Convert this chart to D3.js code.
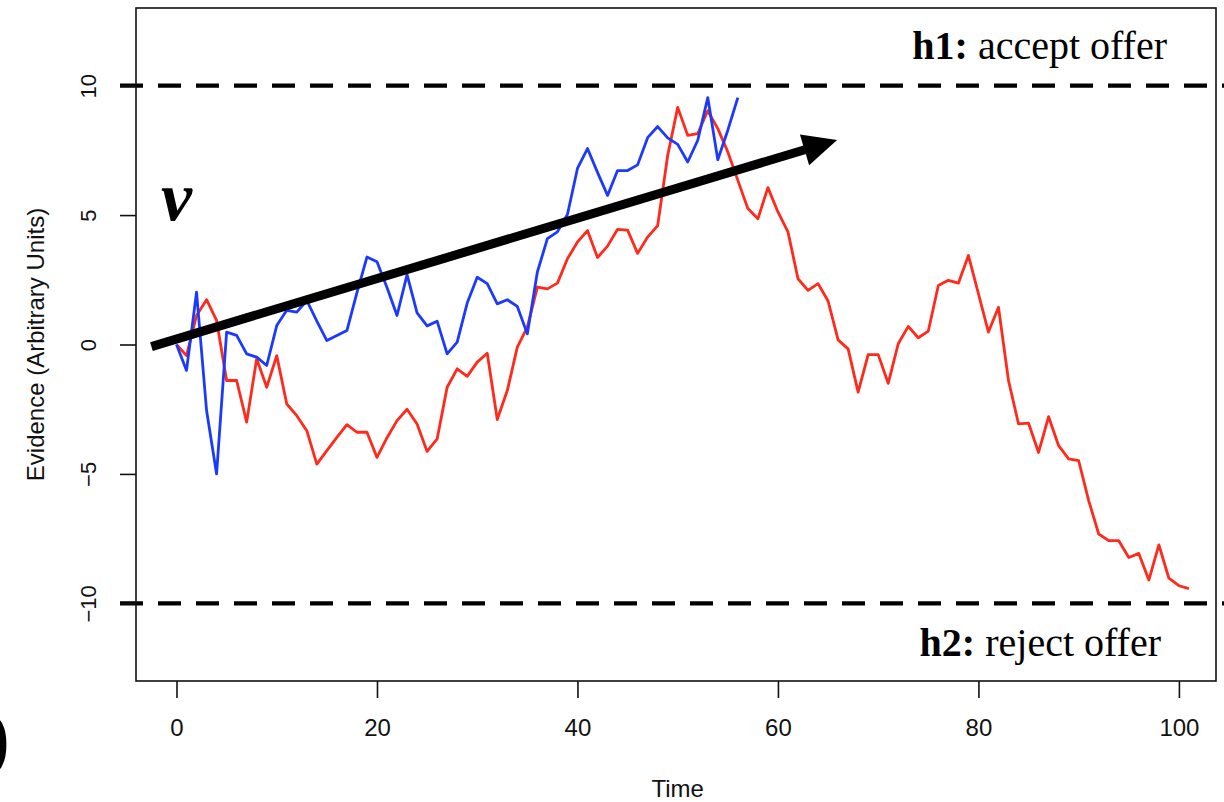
<!DOCTYPE html>
<html>
<head>
<meta charset="utf-8">
<script src="https://cdn.jsdelivr.net/npm/d3@7"></script>
<style>
  html, body { margin: 0; padding: 0; background: #fff; overflow: hidden; }
  svg { display: block; }
</style>
</head>
<body>
<svg id="chart" width="1224" height="802"></svg>
<script>
// ---- data ----
const blueSeries = [0, -1.0, 2.02, -2.55, -5.0, 0.48, 0.35, -0.36, -0.49, -0.81,
  0.73, 1.32, 1.25, 1.7, 0.9, 0.15, 0.35, 0.54, 2.0, 3.38,
  3.2, 2.2, 1.12, 2.7, 1.22, 0.72, 0.9, -0.36, 0.09, 1.6,
  2.6, 2.35, 1.57, 1.73, 1.47, 0.41, 2.8, 4.09, 4.35, 5.02,
  6.8, 7.57, 6.65, 5.76, 6.72, 6.72, 6.94, 7.99, 8.42, 7.98,
  7.73, 7.05, 7.89, 9.54, 7.14, 8.28, 9.54];
const redSeries = [0, -0.43, 1.12, 1.73, 0.93, -1.39, -1.39, -3.0, -0.55, -1.65,
  -0.43, -2.3, -2.75, -3.33, -4.62, -4.1, -3.59, -3.1, -3.39, -3.39,
  -4.36, -3.6, -2.94, -2.5, -3.07, -4.13, -3.65, -1.65, -0.94, -1.23,
  -0.68, -0.34, -2.9, -1.78, -0.1, 0.67, 2.22, 2.15, 2.37, 3.31,
  3.96, 4.4, 3.36, 3.8, 4.45, 4.42, 3.52, 4.15, 4.59, 7.3,
  9.16, 8.08, 8.15, 9.03, 8.34, 7.44, 6.34, 5.25, 4.86, 6.06,
  5.12, 4.35, 2.54, 2.09, 2.35, 1.68, 0.18, -0.17, -1.84, -0.39,
  -0.39, -1.5, 0.03, 0.7, 0.26, 0.52, 2.28, 2.48, 2.37, 3.44,
  1.96, 0.48, 1.44, -1.39, -3.07, -3.04, -4.17, -2.79, -3.91, -4.42,
  -4.49, -6.03, -7.32, -7.58, -7.58, -8.23, -8.07, -9.1, -7.74, -9.03,
  -9.32, -9.43];
const xTicks = [0, 20, 40, 60, 80, 100];
const yTicks = [-10, -5, 0, 5, 10];
const thresholds = [10, -10];
const thresholdLabels = [
  { bold: "h1:", rest: " accept offer", value: 10, side: "above", endX: 1167 },
  { bold: "h2:", rest: " reject offer", value: -10, side: "below", endX: 1161 }
];
const driftArrow = { from: [-2.5, -0.08], to: [65.9, 7.9] };
const xLabel = "Time";
const yLabel = "Evidence (Arbitrary Units)";

// ---- layout ----
const svg = d3.select("#chart");
const plot = { left: 136, right: 1216, top: 8, bottom: 681 };

const x = d3.scaleLinear().domain([-4.04, 103.7]).range([plot.left, plot.right]);
const y = d3.scaleLinear().domain([-13.0, 13.0]).range([plot.bottom, plot.top]);

const sansFont = "'Liberation Sans', Arial, Helvetica, sans-serif";
const serifFont = "'Liberation Serif', 'Times New Roman', Times, serif";

// threshold dashed lines
svg.append("g").selectAll("line").data(thresholds).join("line")
  .attr("x1", 120).attr("x2", 1224)
  .attr("y1", d => y(d)).attr("y2", d => y(d))
  .attr("stroke", "#000").attr("stroke-width", 4.2)
  .attr("stroke-dasharray", "23,15");

// series lines
const line = d3.line().x((d, i) => x(i)).y(d => y(d));
svg.append("path").datum(redSeries)
  .attr("d", line).attr("fill", "none")
  .attr("stroke", "#ff2a1c").attr("stroke-width", 2.8)
  .attr("stroke-linejoin", "round");
svg.append("path").datum(blueSeries)
  .attr("d", line).attr("fill", "none")
  .attr("stroke", "#1c3aff").attr("stroke-width", 2.8)
  .attr("stroke-linejoin", "round");

// box
svg.append("rect")
  .attr("x", plot.left).attr("y", plot.top)
  .attr("width", plot.right - plot.left).attr("height", plot.bottom - plot.top)
  .attr("fill", "none").attr("stroke", "#111").attr("stroke-width", 1.6);

// axes
const xAxis = svg.append("g")
  .attr("transform", `translate(0,${plot.bottom})`)
  .call(d3.axisBottom(x).tickValues(xTicks).tickSize(17).tickPadding(21).tickFormat(d3.format("d")));
xAxis.select(".domain").remove();
xAxis.selectAll("line").attr("stroke", "#111").attr("stroke-width", 1.6);
xAxis.selectAll("text").attr("font-family", sansFont).attr("font-size", 24).attr("fill", "#111");

const yAxis = svg.append("g")
  .attr("transform", `translate(${plot.left},0)`)
  .call(d3.axisLeft(y).tickValues(yTicks).tickSize(16).tickFormat(d3.format("d")));
yAxis.select(".domain").remove();
yAxis.selectAll("line").attr("stroke", "#111").attr("stroke-width", 1.6);
yAxis.selectAll("text")
  .attr("font-family", sansFont).attr("font-size", 22).attr("fill", "#111")
  .attr("transform", "rotate(-90)")
  .attr("x", 0).attr("y", -40).attr("dy", 0)
  .attr("text-anchor", "middle");

// axis titles
svg.append("text")
  .attr("x", (x(0) + x(100)) / 2).attr("y", 797)
  .attr("text-anchor", "middle")
  .attr("font-family", sansFont).attr("font-size", 24).attr("fill", "#111")
  .text(xLabel);
svg.append("text")
  .attr("transform", `translate(44,${y(0)}) rotate(-90)`)
  .attr("text-anchor", "middle")
  .attr("font-family", sansFont).attr("font-size", 24).attr("fill", "#111")
  .text(yLabel);

// threshold labels
thresholdLabels.forEach(l => {
  const t = svg.append("text")
    .attr("x", l.endX)
    .attr("y", l.side === "above" ? y(l.value) - 27 : y(l.value) + 53)
    .attr("text-anchor", "end")
    .attr("font-family", serifFont).attr("font-size", 40).attr("fill", "#000");
  t.append("tspan").attr("font-weight", "bold").text(l.bold);
  t.append("tspan").text(l.rest);
});

// drift arrow
const ax1 = x(driftArrow.from[0]), ay1 = y(driftArrow.from[1]);
const ax2 = x(driftArrow.to[0]), ay2 = y(driftArrow.to[1]);
const ang = Math.atan2(ay2 - ay1, ax2 - ax1);
const headLen = 34, headHalf = 16;
const bx = ax2 - headLen * Math.cos(ang), by = ay2 - headLen * Math.sin(ang);
svg.append("line")
  .attr("x1", ax1).attr("y1", ay1).attr("x2", bx + 2 * Math.cos(ang)).attr("y2", by + 2 * Math.sin(ang))
  .attr("stroke", "#000").attr("stroke-width", 9);
svg.append("path")
  .attr("d", `M${ax2},${ay2} L${bx - headHalf * Math.sin(ang)},${by + headHalf * Math.cos(ang)} L${bx + headHalf * Math.sin(ang)},${by - headHalf * Math.cos(ang)} Z`)
  .attr("fill", "#000");

// drift symbol
svg.append("text")
  .attr("x", 161).attr("y", 220)
  .attr("font-family", serifFont).attr("font-size", 70)
  .attr("font-style", "italic").attr("font-weight", "bold").attr("fill", "#000")
  .text("v");

// partial panel label at the left edge
svg.append("text")
  .attr("x", 10).attr("y", 764)
  .attr("text-anchor", "end")
  .attr("font-family", serifFont).attr("font-size", 80).attr("font-weight", "bold")
  .attr("fill", "#000")
  .text(")");
</script>
</body>
</html>
